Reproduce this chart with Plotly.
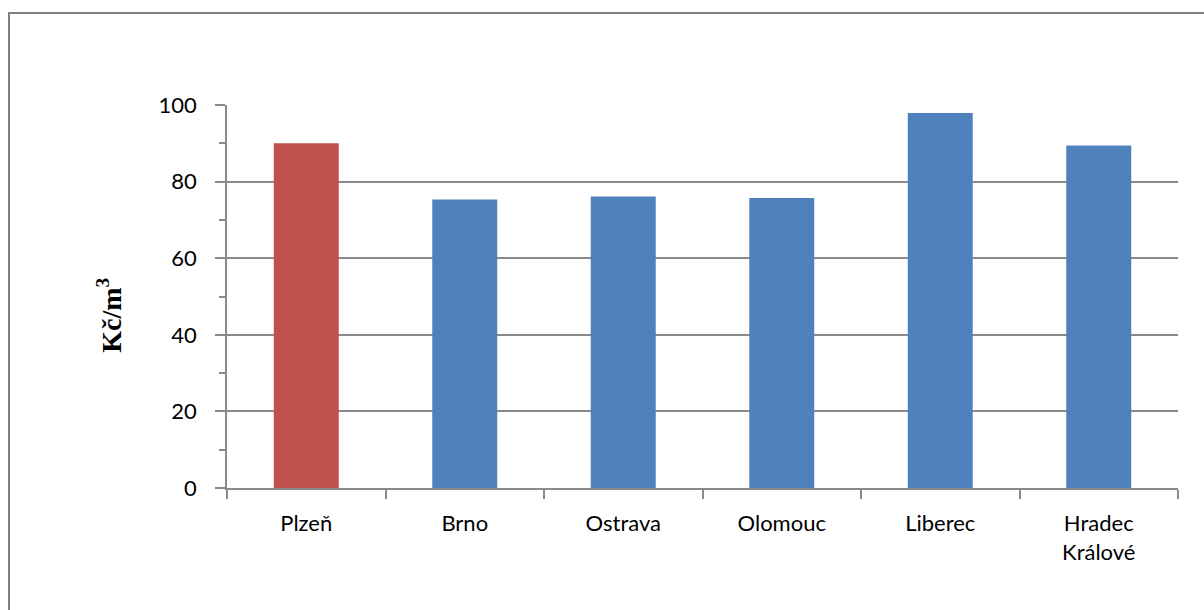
import plotly.graph_objects as go

categories = ["Plzeň", "Brno", "Ostrava", "Olomouc", "Liberec", "Hradec<br>Králové"]
values = [90.0, 75.3, 76.1, 75.7, 97.9, 89.4]
colors = ["#C0504D", "#4F81BD", "#4F81BD", "#4F81BD", "#4F81BD", "#4F81BD"]
y_ticks = [0, 20, 40, 60, 80, 100]
y_minor = [10, 30, 50, 70, 90]
y_title = "<b>Kč/m<sup>3</sup></b>"

W, H = 1204, 610
L, R, T, B = 227, 26, 105, 121.5
pw, ph = W - L - R, H - T - B

def px_x(x):
    return (x - L) / pw

def px_y(y):
    return (H - B - y) / ph

grid_col = "#8a8a8a"

fig = go.Figure(go.Bar(
    x=categories,
    y=values,
    marker=dict(color=colors, line=dict(width=0)),
    width=0.41,
))

fig.update_layout(
    width=W, height=H,
    margin=dict(l=L, r=R, t=T, b=B),
    paper_bgcolor="white", plot_bgcolor="white",
    showlegend=False,
    font=dict(family="Lato", size=22, color="#000000"),
    xaxis=dict(
        type="category",
        range=[-0.5, 5.5],
        tickson="boundaries",
        ticks="outside", ticklen=9, tickwidth=1.5, tickcolor=grid_col,
        showline=True, linecolor=grid_col, linewidth=1.5,
        showgrid=False, zeroline=False,
        ticklabelstandoff=15,
    ),
    yaxis=dict(
        range=[0, 100],
        tickmode="array", tickvals=y_ticks,
        ticks="outside", ticklen=10, tickwidth=1.5, tickcolor=grid_col,
        minor=dict(ticks="outside", ticklen=6, tickwidth=1.5, tickcolor=grid_col,
                   tickvals=y_minor, showgrid=False),
        showline=True, linecolor=grid_col, linewidth=1.5,
        showgrid=True, gridcolor=grid_col, gridwidth=1.5,
        zeroline=False,
        ticklabelstandoff=14,
    ),
    annotations=[dict(
        text=y_title, textangle=-90,
        x=px_x(110), y=px_y(316), xref="paper", yref="paper",
        xanchor="center", yanchor="middle", showarrow=False,
        font=dict(family="Liberation Serif", size=28, color="#000000"),
    )],
    shapes=[dict(
        type="rect", xref="paper", yref="paper",
        x0=px_x(9), x1=1.2, y0=-0.6, y1=px_y(13),
        line=dict(color="#808080", width=2), fillcolor="rgba(0,0,0,0)",
        layer="below",
    )],
)

fig.write_html("out.html")
